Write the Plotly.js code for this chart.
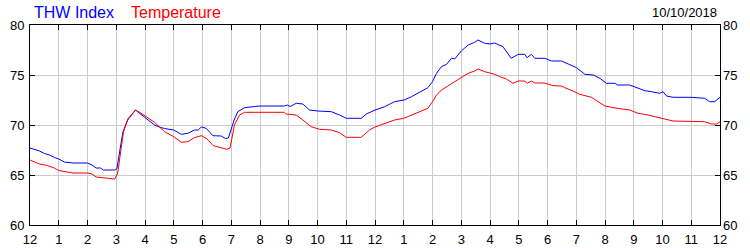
<!DOCTYPE html>
<html>
<head>
<meta charset="utf-8">
<script src="https://cdn.plot.ly/plotly-3.0.1.min.js"></script>
<style>html,body{margin:0;padding:0;background:#fff;}#chart{width:750px;height:250px;}</style>
</head>
<body>
<div id="chart"></div>
<script>
// THW Index (blue)
var thwHours = [0,0.33,0.5,0.68,0.85,1.0,1.2,1.5,2.0,2.15,2.3,2.45,2.55,2.95,3.02,3.1,3.23,3.4,3.55,3.67,3.8,4.0,4.33,4.5,4.68,5.0,5.26,5.49,5.72,5.85,5.96,6.13,6.36,6.65,6.8,6.9,7.0,7.1,7.23,7.46,7.81,8.0,8.85,8.95,9.05,9.26,9.49,9.72,10.01,10.48,10.77,11.0,11.52,11.7,12.0,12.34,12.68,13.01,13.27,13.5,13.84,14.0,14.14,14.31,14.49,14.66,14.77,15.0,15.24,15.47,15.58,15.82,16.0,16.16,16.45,16.74,16.86,16.98,17.21,17.29,17.44,17.56,17.91,18.14,18.49,18.72,19.01,19.3,19.59,19.82,20.05,20.35,20.43,20.86,21.15,21.38,21.62,21.9,22.02,22.14,22.37,23.01,23.47,23.64,23.81,24.0];
var thwValues = [67.7,67.4,67.15,67.0,66.75,66.6,66.3,66.2,66.2,66.0,65.7,65.7,65.5,65.5,65.6,67.0,69.3,70.5,71.0,71.5,71.2,70.75,70.0,69.8,69.65,69.5,69.07,69.17,69.5,69.5,69.8,69.67,68.93,68.9,68.65,68.7,69.67,70.5,71.33,71.73,71.85,71.9,71.9,72.0,71.85,72.17,72.1,71.5,71.4,71.33,71.0,70.67,70.67,71.1,71.5,71.83,72.33,72.5,72.83,73.17,73.73,74.33,75.17,75.83,76.07,76.67,76.6,77.4,78.0,78.27,78.5,78.17,78.1,78.2,77.83,76.67,76.83,77.07,77.07,76.73,77.07,76.67,76.67,76.4,76.4,76.07,75.73,75.07,75.0,74.67,74.17,74.17,74.0,74.0,73.67,73.43,73.33,73.17,73.33,72.9,72.77,72.77,72.67,72.33,72.33,72.77];

// Temperature (red)
var tempHours = [0,0.33,0.6,0.85,1.0,1.25,1.5,2.0,2.15,2.3,2.6,2.95,3.05,3.17,3.25,3.4,3.55,3.67,3.85,4.1,4.33,4.68,5.0,5.26,5.49,5.72,5.96,6.13,6.38,6.85,6.96,7.11,7.29,7.46,8.85,8.91,9.26,9.49,9.78,10.07,10.48,10.77,11.0,11.52,11.81,12.0,12.34,12.68,13.0,13.27,13.5,13.84,14.0,14.14,14.31,14.49,14.66,14.77,15.0,15.24,15.47,15.58,15.82,16.16,16.34,16.57,16.8,16.98,17.21,17.29,17.44,17.56,17.9,18.19,18.49,18.6,18.89,19.12,19.53,20.0,20.35,20.86,21.15,21.5,21.97,22.37,23.47,23.7,23.88,24.0];
var tempValues = [66.5,66.1,65.95,65.7,65.45,65.3,65.2,65.2,65.1,64.8,64.7,64.6,65.2,68.0,69.3,70.6,71.1,71.5,71.2,70.7,70.27,69.33,68.83,68.27,68.33,68.73,68.93,68.67,67.93,67.57,67.7,70.0,71.0,71.27,71.27,71.1,71.0,70.5,69.83,69.57,69.5,69.23,68.77,68.77,69.5,69.8,70.17,70.5,70.67,71.0,71.23,71.67,72.33,73.0,73.5,73.83,74.17,74.33,74.73,75.17,75.4,75.6,75.33,75.07,74.83,74.6,74.17,74.4,74.4,74.17,74.4,74.2,74.2,73.93,73.9,73.73,73.4,73.07,72.77,71.9,71.7,71.5,71.17,71.0,70.67,70.4,70.33,70.1,70.1,70.33];

var tickHours = [0,1,2,3,4,5,6,7,8,9,10,11,12,13,14,15,16,17,18,19,20,21,22,23,24];
var tickLabels = ['12','1','2','3','4','5','6','7','8','9','10','11','12','1','2','3','4','5','6','7','8','9','10','11','12'];
var yTicks = [60,65,70,75,80];

var FONT = 'Liberation Sans, Arial, sans-serif';

var traces = [
  {x: thwHours, y: thwValues, type: 'scatter', mode: 'lines', name: 'THW Index',
   line: {color: '#0000ff', width: 1}, hoverinfo: 'skip'},
  {x: tempHours, y: tempValues, type: 'scatter', mode: 'lines', name: 'Temperature',
   line: {color: '#ff0000', width: 1}, hoverinfo: 'skip'},
  {x: [0], y: [60], yaxis: 'y2', type: 'scatter', mode: 'markers', marker: {opacity: 0}, showlegend: false, hoverinfo: 'skip'}
];

var layout = {
  width: 750, height: 250,
  margin: {l: 30, r: 30, t: 25, b: 25, pad: 0},
  paper_bgcolor: '#ffffff', plot_bgcolor: '#ffffff',
  showlegend: false,
  font: {family: FONT, size: 13, color: '#000'},
  xaxis: {
    range: [0, 24], tickmode: 'array', tickvals: tickHours, ticktext: tickLabels,
    showgrid: true, gridcolor: '#cccccc', gridwidth: 1, zeroline: false,
    showline: true, linecolor: '#000', linewidth: 1, mirror: 'ticks',
    ticks: 'inside', ticklen: 5, tickcolor: '#000', tickwidth: 1,
    ticklabelstandoff: 2,
    tickfont: {family: FONT, size: 13, color: '#000'}
  },
  yaxis: {
    range: [60, 80], tickmode: 'array', tickvals: yTicks,
    showgrid: true, gridcolor: '#cccccc', gridwidth: 1, zeroline: false,
    showline: true, linecolor: '#000', linewidth: 1, mirror: true,
    ticks: 'inside', ticklen: 5, tickcolor: '#000', tickwidth: 1,
    ticklabelstandoff: 2,
    tickfont: {family: FONT, size: 13, color: '#000'}
  },
  yaxis2: {
    range: [60, 80], tickmode: 'array', tickvals: yTicks, overlaying: 'y', side: 'right',
    showgrid: false, zeroline: false, showline: false,
    ticks: 'inside', ticklen: 5, tickcolor: '#000', tickwidth: 1,
    ticklabelstandoff: 2,
    tickfont: {family: FONT, size: 13, color: '#000'}
  },
  annotations: [
    {text: 'THW Index', xref: 'paper', yref: 'paper', x: 0, y: 1, xanchor: 'left', yanchor: 'bottom',
     xshift: 2, yshift: 2, showarrow: false, font: {family: FONT, size: 16, color: '#0000ff'}},
    {text: 'Temperature', xref: 'paper', yref: 'paper', x: 0, y: 1, xanchor: 'left', yanchor: 'bottom',
     xshift: 99, yshift: 2, showarrow: false, font: {family: FONT, size: 16, color: '#ff0000'}},
    {text: '10/10/2018', xref: 'paper', yref: 'paper', x: 1, y: 1, xanchor: 'right', yanchor: 'bottom',
     xshift: -1, yshift: 3, showarrow: false, font: {family: FONT, size: 13, color: '#000'}}
  ]
};

Plotly.newPlot('chart', traces, layout, {staticPlot: true, displayModeBar: false});
</script>
</body>
</html>
